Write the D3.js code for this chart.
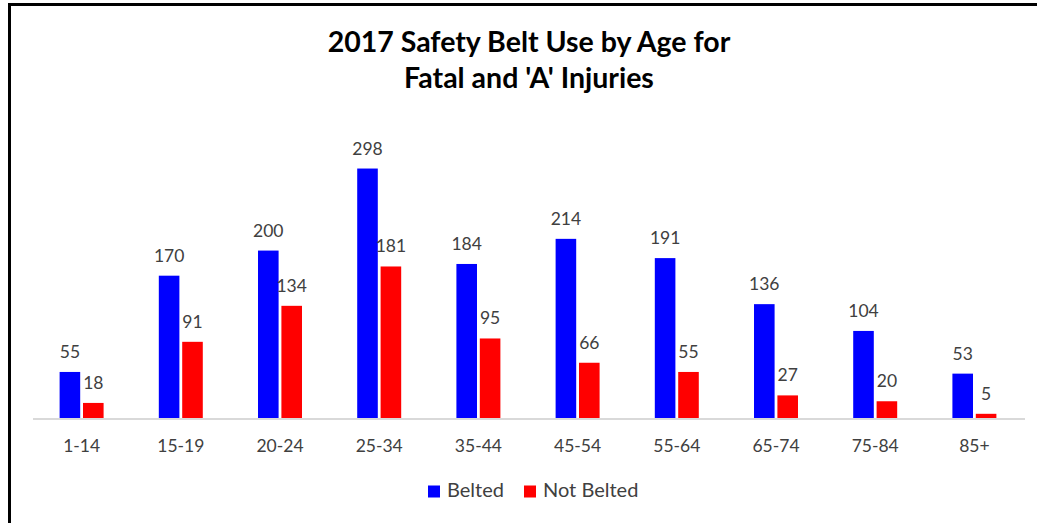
<!DOCTYPE html>
<html><head><meta charset="utf-8">
<script src="https://cdn.jsdelivr.net/npm/d3@7"></script>
<style>body{margin:0;background:#fff}svg{display:block}</style>
</head><body>
<svg id="c" width="1037" height="523"></svg>
<script>
const categories = ["1-14","15-19","20-24","25-34","35-44","45-54","55-64","65-74","75-84","85+"];
const seriesNames = ["Belted","Not Belted"];
const belted = [55,170,200,298,184,214,191,136,104,53];
const notBelted = [18,91,134,181,95,66,55,27,20,5];
const colors = ["#0000ff","#ff0000"];
const titleLines = ["2017 Safety Belt Use by Age for","Fatal and 'A' Injuries"];

const font = "Lato, 'Open Sans', sans-serif";
const svg = d3.select("#c");
svg.append("rect").attr("width",1037).attr("height",523).attr("fill","#fff");
// border
svg.append("path").attr("d","M9.5,530 V4.5 H1045").attr("fill","none").attr("stroke","#000").attr("stroke-width",3);

const x = d3.scaleBand().domain(categories).range([32,1024]).paddingInner(0.5).paddingOuter(0.25);
const xs = d3.scaleBand().domain(seriesNames).range([0,x.bandwidth()]).padding(0.12);
const y = d3.scaleLinear().domain([0,350]).range([418,125]);

const data = [belted, notBelted];
seriesNames.forEach((s,si)=>{
  const g = svg.append("g");
  g.selectAll("rect").data(categories).join("rect")
    .attr("x",(c)=>x(c)+xs(s)).attr("width",xs.bandwidth())
    .attr("y",(c,i)=>y(data[si][i])).attr("height",(c,i)=>y(0)-y(data[si][i]))
    .attr("fill",colors[si]);
  g.selectAll("text").data(categories).join("text")
    .attr("x",(c)=>x(c)+xs(s)+xs.bandwidth()/2)
    .attr("y",(c,i)=>y(data[si][i])-14)
    .attr("text-anchor","middle").attr("font-family",font).attr("font-size",17.5).attr("fill","#404040")
    .text((c,i)=>data[si][i]);
});

// axis
const ax = svg.append("g").attr("transform","translate(0,419)")
  .call(d3.axisBottom(x).tickSize(0));
ax.select(".domain").attr("stroke","#d9d9d9").attr("stroke-width",2).attr("d","M33,0H1025");
ax.selectAll("text").attr("y",33).attr("dy",0).attr("font-family",font).attr("font-size",17.5).attr("fill","#404040");

// title
svg.append("g").selectAll("text").data(titleLines).join("text")
  .attr("x",529).attr("y",(d,i)=>52+i*36).attr("text-anchor","middle")
  .attr("font-family",font).attr("font-weight","bold").attr("font-size",28.5).attr("fill","#000")
  .text(d=>d);

// legend
const leg = svg.append("g");
const legX = [428,524];
seriesNames.forEach((s,i)=>{
  leg.append("rect").attr("x",legX[i]).attr("y",485.5).attr("width",12).attr("height",12).attr("fill",colors[i]);
  leg.append("text").attr("x",legX[i]+19).attr("y",497).attr("font-family",font).attr("font-size",20).attr("fill","#404040").text(s);
});
</script>
</body></html>
